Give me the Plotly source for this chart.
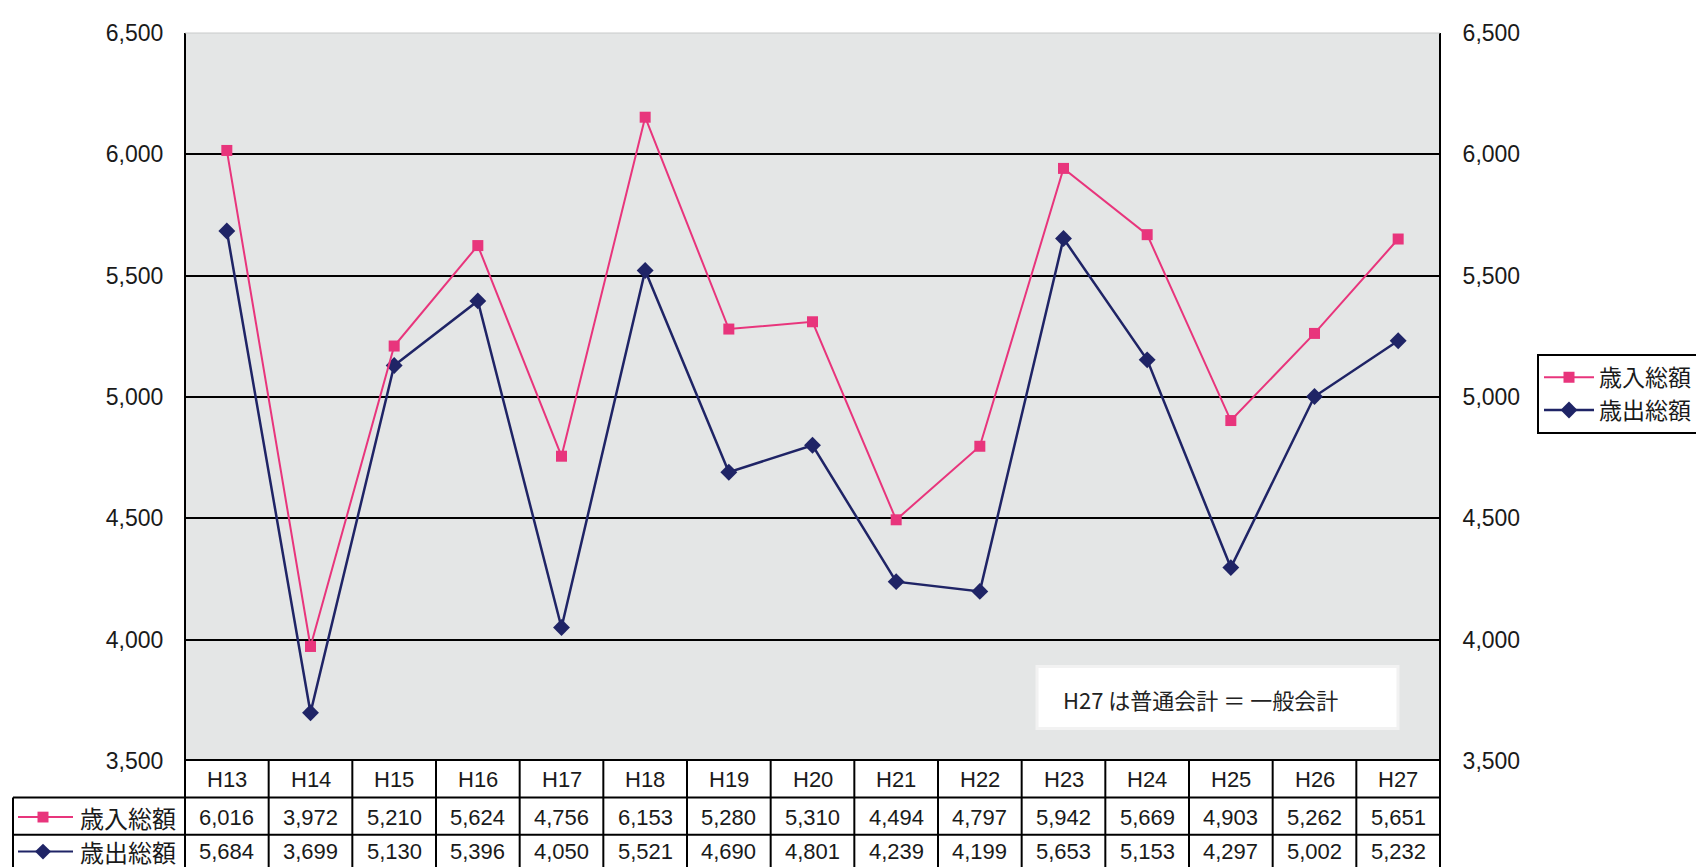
import plotly.graph_objects as go

years = ["H13", "H14", "H15", "H16", "H17", "H18", "H19", "H20",
         "H21", "H22", "H23", "H24", "H25", "H26", "H27"]
revenue = [6016, 3972, 5210, 5624, 4756, 6153, 5280, 5310,
           4494, 4797, 5942, 5669, 4903, 5262, 5651]
expense = [5684, 3699, 5130, 5396, 4050, 5521, 4690, 4801,
           4239, 4199, 5653, 5153, 4297, 5002, 5232]
series_names = ["歳入総額", "歳出総額"]
note_text = "H27 は普通会計 ＝ 一般会計"

PINK = "#e8357c"
NAVY = "#1f2466"
NUM_FONT = "Arial, Liberation Sans, Noto Sans CJK JP"
JP_FONT = "Noto Sans CJK JP, sans-serif"

W, H = 1704, 867
OFF = 8                            # default body margin of the html page
L, R, T, B = 185, 1440, 21, 761    # plot area in page pixels


def px(x):
    return (x - L) / (R - L)


def py(y):
    return (B - y) / (B - T)


fig = go.Figure()

# navy first so the pink squares sit on top
fig.add_trace(go.Scatter(
    x=years, y=expense, name=series_names[1], mode="lines+markers",
    line=dict(color=NAVY, width=2.5),
    marker=dict(symbol="diamond", size=13, color=NAVY),
    legendrank=2,
))
fig.add_trace(go.Scatter(
    x=years, y=revenue, name=series_names[0], mode="lines+markers",
    line=dict(color=PINK, width=2),
    marker=dict(symbol="square", size=11, color=PINK),
    legendrank=1,
))
# invisible trace just to get the right-hand axis labels
fig.add_trace(go.Scatter(x=years, y=revenue, yaxis="y2", mode="markers",
                         marker=dict(opacity=0), showlegend=False, hoverinfo="skip"))

shapes = []
annotations = []
black = dict(color="black", width=2)

# plot frame left / right
shapes.append(dict(type="line", xref="paper", yref="paper", x0=0, x1=0, y0=1, y1=py(900), line=black))
shapes.append(dict(type="line", xref="paper", yref="paper", x0=1, x1=1, y0=1, y1=py(900), line=black))
shapes.append(dict(type="line", xref="paper", yref="paper", x0=0, x1=1, y0=1, y1=1,
                   line=dict(color="#c8caca", width=1)))

# data table under the chart
row_lines = [760, 798, 836]
shapes.append(dict(type="line", xref="paper", yref="paper", x0=0, x1=1,
                   y0=py(row_lines[0]), y1=py(row_lines[0]), line=black))
for yy in row_lines[1:]:
    shapes.append(dict(type="line", xref="paper", yref="paper", x0=px(13), x1=1,
                       y0=py(yy), y1=py(yy), line=black))
shapes.append(dict(type="line", xref="paper", yref="paper", x0=px(13), x1=px(13),
                   y0=py(798), y1=py(900), line=black))
for i in range(1, len(years)):
    shapes.append(dict(type="line", xref="x", yref="paper", x0=i - 0.5, x1=i - 0.5,
                       y0=py(760), y1=py(900), line=black))

row_y = [780, 818, 853]
cell_font = dict(family=NUM_FONT, size=22, color="#1a1a1a")
for i, yr in enumerate(years):
    for text, yy in [(yr, row_y[0]), (f"{revenue[i]:,}", row_y[1]), (f"{expense[i]:,}", row_y[2])]:
        annotations.append(dict(x=yr, y=py(yy), xref="x", yref="paper", text=text,
                                xanchor="center", yanchor="middle",
                                showarrow=False, font=cell_font))

# row labels with line/marker keys
for name, yy, col, sym in [(series_names[0], row_y[1], PINK, "square"),
                           (series_names[1], row_y[2], NAVY, "diamond")]:
    shapes.append(dict(type="line", xref="paper", yref="paper", x0=px(18), x1=px(73),
                       y0=py(yy), y1=py(yy), line=dict(color=col, width=2)))
    cx, cy = px(43), py(yy)
    if sym == "square":
        shapes.append(dict(type="rect", xref="paper", yref="paper",
                           x0=cx - 5.5 / (R - L), x1=cx + 5.5 / (R - L),
                           y0=cy - 5.5 / (B - T), y1=cy + 5.5 / (B - T),
                           fillcolor=col, line=dict(width=0)))
    else:
        dx, dy = 8 / (R - L), 8 / (B - T)
        shapes.append(dict(type="path", xref="paper", yref="paper",
                           path=f"M {cx - dx} {cy} L {cx} {cy + dy} L {cx + dx} {cy} L {cx} {cy - dy} Z",
                           fillcolor=col, line=dict(width=0)))
    annotations.append(dict(x=px(78), y=py(yy), xref="paper", yref="paper", text=name,
                            xanchor="left", yanchor="middle", showarrow=False,
                            font=dict(family=JP_FONT, size=24, color="#1a1a1a")))

# note box
shapes.append(dict(type="rect", xref="paper", yref="paper", x0=px(1037), x1=px(1398),
                   y0=py(728), y1=py(665), fillcolor="white", line=dict(color="#f2f2f2", width=3),
                   layer="above"))
annotations.append(dict(x=px(1061), y=py(698), xref="paper", yref="paper", text=note_text,
                        xanchor="left", yanchor="middle", showarrow=False,
                        font=dict(family=JP_FONT, size=22, color="#222")))

axis_font = dict(family=NUM_FONT, size=23, color="#1a1a1a")
fig.update_layout(
    width=W, height=H,
    margin=dict(l=L - OFF, r=W + OFF - R, t=T - OFF, b=H + OFF - B),
    paper_bgcolor="white",
    plot_bgcolor="#e4e6e6",
    xaxis=dict(type="category", range=[-0.5, len(years) - 0.5], showticklabels=False,
               showgrid=False, zeroline=False, ticks=""),
    yaxis=dict(range=[3500, 6500], dtick=500, tickformat=",", showgrid=True,
               gridcolor="black", gridwidth=2, zeroline=False, tickfont=axis_font,
               ticks="outside", ticklen=16, tickcolor="rgba(0,0,0,0)"),
    yaxis2=dict(range=[3500, 6500], dtick=500, tickformat=",", overlaying="y", side="right",
                showgrid=False, zeroline=False, tickfont=axis_font,
                ticks="outside", ticklen=17, tickcolor="rgba(0,0,0,0)"),
    legend=dict(x=px(1537), y=py(347), xanchor="left", yanchor="top",
                bordercolor="black", borderwidth=2, bgcolor="white",
                font=dict(family=JP_FONT, size=23, color="#1a1a1a"),
                itemwidth=50, tracegroupgap=0),
    shapes=shapes,
    annotations=annotations,
    showlegend=True,
)

fig.write_html("out.html")
